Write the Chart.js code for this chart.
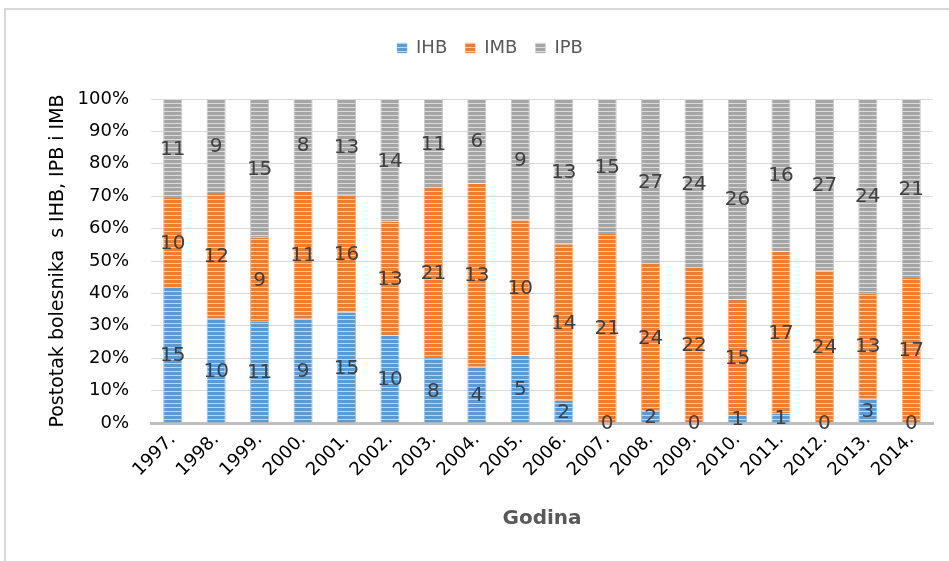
<!DOCTYPE html>
<html>
<head>
<meta charset="utf-8">
<script src="https://cdn.jsdelivr.net/npm/chart.js@4/dist/chart.umd.min.js"></script>
<style>
html,body{margin:0;padding:0;background:#fff;}
#wrap{position:relative;width:949px;height:561px;}
#frame{position:absolute;left:4px;top:8px;right:0;bottom:0;border-left:2px solid #d9d9d9;border-top:2px solid #d9d9d9;pointer-events:none;}
canvas{position:absolute;left:0;top:0;}
</style>
</head>
<body>
<div id="wrap"><div id="frame"></div><canvas id="c" width="949" height="561"></canvas></div>
<script>
const categories = ['1997.','1998.','1999.','2000.','2001.','2002.','2003.','2004.','2005.','2006.','2007.','2008.','2009.','2010.','2011.','2012.','2013.','2014.'];
const seriesNames = ['IHB','IMB','IPB'];
const ihb = [15,10,11,9,15,10,8,4,5,2,0,2,0,1,1,0,3,0];
const imb = [10,12,9,11,16,13,21,13,10,14,21,24,22,15,17,24,13,17];
const ipb = [11,9,15,8,13,14,11,6,9,13,15,27,24,26,16,27,24,21];
const yTicks = [0,10,20,30,40,50,60,70,80,90,100];

const counts = [ihb, imb, ipb];
const totals = categories.map((_, i) => ihb[i] + imb[i] + ipb[i]);
const pct = counts.map(arr => arr.map((v, i) => v / totals[i] * 100));

const FONT = '"DejaVu Sans", Verdana, sans-serif';

function stripe(dark, light) {
  const c = document.createElement('canvas');
  c.width = 4; c.height = 4;
  const g = c.getContext('2d');
  g.fillStyle = dark; g.fillRect(0, 0, 4, 4);
  g.fillStyle = light; g.fillRect(0, 3, 4, 1);
  return g.createPattern(c, 'repeat');
}
const ctx = document.getElementById('c').getContext('2d');
const fills = [stripe('#5b9bd5', '#bdd7ee'), stripe('#ed7d31', '#f8cbad'), stripe('#a5a5a5', '#dbdbdb')];
const edges = ['#9dc3e6', '#f4b183', '#c9c9c9'];

const labelPlugin = {
  id: 'segLabels',
  afterDatasetsDraw(chart) {
    const g = chart.ctx;
    g.save();
    g.font = '20px ' + FONT;
    g.fillStyle = '#404040';
    g.textAlign = 'center';
    g.textBaseline = 'middle';
    chart.data.datasets.forEach((ds, di) => {
      const meta = chart.getDatasetMeta(di);
      meta.data.forEach((el, i) => {
        const y = (el.y + el.base) / 2;
        g.fillText(String(counts[di][i]), el.x, y + 1);
      });
    });
    g.restore();
  }
};
const legendSpace = {
  id: 'legendSpace',
  afterInit(chart) {
    const lg = chart.legend;
    if (lg && !lg._patched) {
      const orig = lg.fit;
      lg.fit = function () { orig.call(this); this.height = 78; };
      lg._patched = true;
    }
  }
};

new Chart(ctx, {
  type: 'bar',
  data: {
    labels: categories,
    datasets: seriesNames.map((n, k) => ({
      label: n,
      data: pct[k],
      backgroundColor: fills[k],
      borderColor: edges[k],
      borderWidth: { left: 1, right: 1, top: 0, bottom: 0 },
      borderSkipped: false,
      barPercentage: 0.44,
      categoryPercentage: 1.0
    }))
  },
  options: {
    responsive: false,
    animation: false,
    layout: { padding: { left: 47, right: 16, top: 21, bottom: 26 } },
    plugins: {
      tooltip: { enabled: false },
      legend: {
        position: 'top',
        labels: {
          boxWidth: 10, boxHeight: 10, padding: 18,
          color: '#595959',
          font: { family: FONT, size: 18 }
        }
      }
    },
    scales: {
      x: {
        stacked: true,
        grid: { display: false, drawTicks: false },
        border: { display: true, color: '#bfbfbf', width: 3 },
        ticks: {
          color: '#000', maxRotation: 45, minRotation: 45, padding: 6,
          font: { family: FONT, size: 18 }
        },
        title: {
          display: true, text: 'Godina', color: '#595959',
          font: { family: FONT, size: 20, weight: 'bold' },
          padding: { top: 4, bottom: 4 }
        },
        afterFit(s) { s.height = 112; }
      },
      y: {
        stacked: true,
        min: 0, max: 100,
        afterBuildTicks(s) { s.ticks = yTicks.map(v => ({ value: v })); },
        grid: { color: '#d9d9d9', lineWidth: 1, drawTicks: false },
        border: { display: false },
        ticks: {
          color: '#000', padding: 22,
          font: { family: FONT, size: 18 },
          callback: v => v + '%'
        },
        title: {
          display: true, text: 'Postotak bolesnika  s IHB, IPB i IMB', color: '#000',
          font: { family: FONT, size: 19 },
          padding: { top: 0, bottom: 0 }
        },
        afterFit(s) { s.width = 104; }
      }
    }
  },
  plugins: [labelPlugin, legendSpace]
});
</script>
</body>
</html>
